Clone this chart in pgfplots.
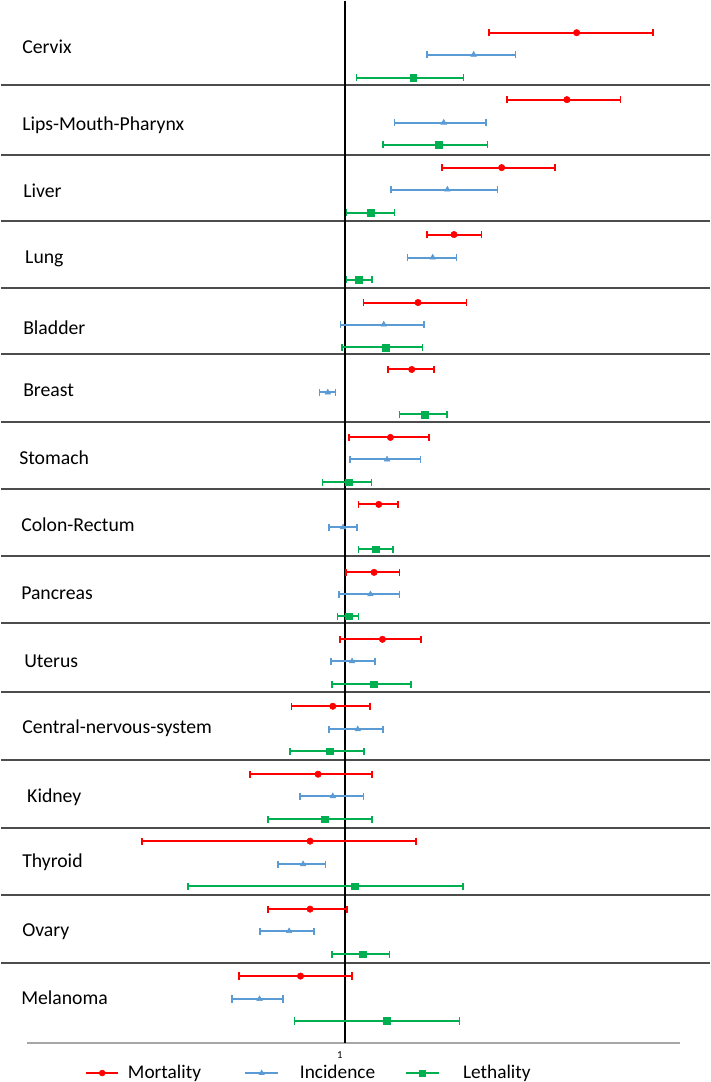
\documentclass[border=0pt]{standalone}
\usepackage{fontspec}
\setmainfont{Carlito}
\usepackage{pgfplots}
\pgfplotsset{compat=1.18}
\usepackage{pgfplotstable}
\definecolor{mred}{HTML}{FF0000}
\definecolor{mblue}{HTML}{5B9BD5}
\definecolor{mgreen}{HTML}{00B050}

% x in chart units (1 = position 344), r = row index from top
\pgfplotstableread{
r x lo hi
0 576 488.3 652.3
3 566.3 506.3 620
6 501 441 554.3
9 453.3 426.3 480.7
12 417.3 362.7 465.7
15 411 387 433
18 389.7 348 428
21 378 357.7 397
24 373.3 345.3 398.7
27 381.7 339.3 420
30 332 290.7 369
33 317.3 249.3 371
36 309.3 141.3 415.3
39 309.3 267.3 346.3
42 299.7 238.3 351.3
}\mort

\pgfplotstableread{
r x lo hi
1 473 426.3 514.7
4 443 393.7 485.3
7 446.7 390.3 496.7
10 432 407 456
13 383 339.7 423.3
16 327 318.7 334.7
19 386.3 349.3 420
22 342.3 328.3 356.3
25 369.7 338 398.7
28 351.3 330 374.3
31 357 328 382.3
34 332 299 363
37 302.3 277.3 324.7
40 288.3 259.3 313.3
43 258.7 231.3 282.3
}\inci

\pgfplotstableread{
r x lo hi
2 412.7 355.7 462.7
5 438.3 382.3 487
8 370 345.7 393.7
11 358.3 345.7 371
14 384.7 341.3 421.7
17 424 398.7 446
20 347.7 321.7 370.7
23 375 357.7 392.3
26 347.7 336.7 357.7
29 373.3 331.3 410
32 329 289.3 363
35 324.3 267.3 371
38 353.7 187.3 462.3
41 362 331.3 388.7
44 386.3 293.7 459
}\leth

\begin{document}
\begin{tikzpicture}
\begin{axis}[
  width=531.75pt, height=811.5pt, scale only axis,
  xmin=0, xmax=709, ymin=0, ymax=1082, y dir=reverse,
  hide axis, clip=false,
  legend columns=3,
  legend style={draw=none, fill=none, at={(0.1185,0.0083)}, anchor=west,
    inner sep=0pt, outer sep=0pt, column sep=0pt,
    nodes={inner sep=0pt, font=\fontsize{14.5}{17}\selectfont}},
]
\path (rel axis cs:0,0) rectangle (rel axis cs:1,1);

% separators
\draw[black!70, line width=1.5pt] (axis cs:0,84) -- (axis cs:709,84);
\draw[black!70, line width=1.5pt] (axis cs:0,154) -- (axis cs:709,154);
\draw[black!70, line width=1.5pt] (axis cs:0,220) -- (axis cs:709,220);
\draw[black!70, line width=1.5pt] (axis cs:0,287) -- (axis cs:709,287);
\draw[black!70, line width=1.5pt] (axis cs:0,354) -- (axis cs:709,354);
\draw[black!70, line width=1.5pt] (axis cs:0,422) -- (axis cs:709,422);
\draw[black!70, line width=1.5pt] (axis cs:0,489) -- (axis cs:709,489);
\draw[black!70, line width=1.5pt] (axis cs:0,556) -- (axis cs:709,556);
\draw[black!70, line width=1.5pt] (axis cs:0,623) -- (axis cs:709,623);
\draw[black!70, line width=1.5pt] (axis cs:0,692) -- (axis cs:709,692);
\draw[black!70, line width=1.5pt] (axis cs:0,760) -- (axis cs:709,760);
\draw[black!70, line width=1.5pt] (axis cs:0,828) -- (axis cs:709,828);
\draw[black!70, line width=1.5pt] (axis cs:0,895) -- (axis cs:709,895);
\draw[black!70, line width=1.5pt] (axis cs:0,963) -- (axis cs:709,963);
% bottom axis
\draw[black!35, line width=1.8pt] (axis cs:26,1043) -- (axis cs:679,1043);
% reference line
\draw[black, line width=1.1pt] (axis cs:344,0) -- (axis cs:344,1043);
\node[font=\fontsize{8}{9.6}\selectfont] at (axis cs:339,1055) {1};

% category labels
\begin{scope}[every node/.style={anchor=base west, inner sep=0pt, font=\fontsize{14.8}{17}\selectfont}]
\node at (axis cs:21,53) {Cervix};
\node at (axis cs:21,130) {Lips-Mouth-Pharynx};
\node at (axis cs:22,197) {Liver};
\node at (axis cs:24,263) {Lung};
\node at (axis cs:22,334) {Bladder};
\node at (axis cs:22,396) {Breast};
\node at (axis cs:18,464) {Stomach};
\node at (axis cs:20,531) {Colon-Rectum};
\node at (axis cs:20,599) {Pancreas};
\node at (axis cs:23,667) {Uterus};
\node at (axis cs:21,733) {Central-nervous-system};
\node at (axis cs:26,802) {Kidney};
\node at (axis cs:21,867) {Thyroid};
\node at (axis cs:21,936) {Ovary};
\node at (axis cs:20,1004) {Melanoma};
\end{scope}

\addplot[only marks, mark=*, color=mred, mark size=2.4pt,
  mark options={solid, fill=mred, draw=mred},
  legend image code/.code={\draw[mred, line width=1.5pt] (0pt,0pt) -- (24.4pt,0pt); \fill[mred] (12.2pt,0pt) circle (2.2pt);},
  error bars/.cd, x dir=both, x explicit, error mark=|,
  error bar style={line width=1.5pt, color=mred},
  error mark options={line width=1.2pt, color=mred, mark size=2.7pt}]
  table[x=x, y expr=round(32+22.48*\thisrow{r}),
    x error plus expr=\thisrow{hi}-\thisrow{x},
    x error minus expr=\thisrow{x}-\thisrow{lo}]{\mort};
\addlegendentry{\hspace*{6.4pt}Mortality\hspace*{32.6pt}}

\addplot[only marks, mark=triangle*, color=mblue, mark size=2.4pt,
  mark options={solid, fill=mblue, draw=mblue},
  legend image code/.code={\draw[mblue, line width=1.5pt] (0pt,0pt) -- (24.4pt,0pt); \draw[mblue, fill=mblue] plot[mark=triangle*, mark size=2.2pt] coordinates {(12.2pt,0pt)};},
  error bars/.cd, x dir=both, x explicit, error mark=|,
  error bar style={line width=1.5pt, color=mblue},
  error mark options={line width=1.1pt, color=mblue, mark size=2.7pt}]
  table[x=x, y expr=round(32+22.48*\thisrow{r}),
    x error plus expr=\thisrow{hi}-\thisrow{x},
    x error minus expr=\thisrow{x}-\thisrow{lo}]{\inci};
\addlegendentry{\hspace*{15.7pt}Incidence\hspace*{22.5pt}}

\addplot[only marks, mark=square*, color=mgreen, mark size=2.5pt,
  mark options={solid, fill=mgreen, draw=mgreen},
  legend image code/.code={\draw[mgreen, line width=1.5pt] (0pt,0pt) -- (24.4pt,0pt); \fill[mgreen] (9.9pt,-2.3pt) rectangle (14.5pt,2.3pt);},
  error bars/.cd, x dir=both, x explicit, error mark=|,
  error bar style={line width=1.5pt, color=mgreen},
  error mark options={line width=1.2pt, color=mgreen, mark size=2.7pt}]
  table[x=x, y expr=round(32+22.48*\thisrow{r}),
    x error plus expr=\thisrow{hi}-\thisrow{x},
    x error minus expr=\thisrow{x}-\thisrow{lo}]{\leth};
\addlegendentry{\hspace*{17.5pt}Lethality}
\end{axis}
\end{tikzpicture}
\end{document}
